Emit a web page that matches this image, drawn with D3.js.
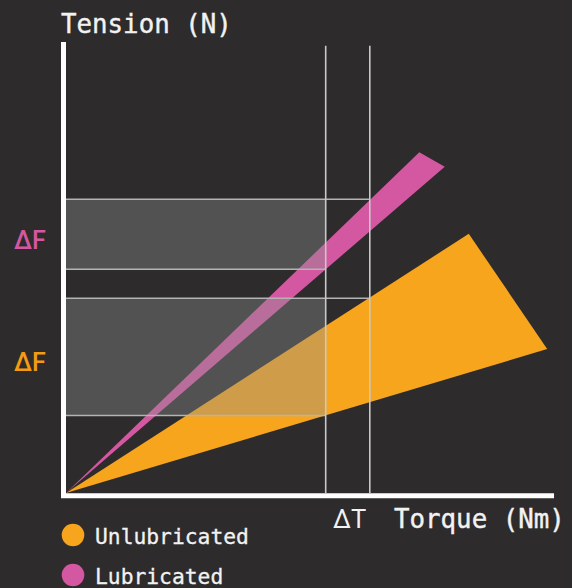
<!DOCTYPE html>
<html>
<head>
<meta charset="utf-8">
<script src="https://cdn.jsdelivr.net/npm/d3@7/dist/d3.min.js"></script>
<style>
  html, body { margin: 0; padding: 0; background: #2d2b2c; }
  svg { display: block; }
</style>
</head>
<body>
<script>
// ---- data (arbitrary units: torque on x, tension on y) ----
const seriesNames = ["Unlubricated", "Lubricated"];
const seriesColors = ["#f7a51c", "#d358a1"];
// wedge tips: [torque, tension] of the two far corners of each band (apex at origin)
const unlubricatedTips = [[8.22, 5.76], [9.82, 3.20]];
const lubricatedTips = [[7.21, 7.57], [7.73, 7.25]];
// torque window
const torqueWindow = [5.30, 6.20];
// tension windows [low, high]
const lubricatedDF = [4.97, 6.53];
const unlubricatedDF = [1.72, 4.33];
const axisTitles = { x: "Torque (Nm)", y: "Tension (N)" };
const deltaLabels = { t: "ΔT", f: "ΔF" };

const W = 572, H = 588;
const x = d3.scaleLinear().domain([0, 10]).range([66, 556]);
const y = d3.scaleLinear().domain([0, 10]).range([493, 43]);

const svg = d3.select("body").append("svg").attr("width", W).attr("height", H);
svg.append("rect").attr("width", W).attr("height", H).attr("fill", "#2d2b2c");

const mono = "'DejaVu Sans Mono', 'Liberation Mono', monospace";
const textColor = "#f2f2f2";

// wedges
const wedge = tips => [[0, 0], tips[0], tips[1]];
const line = d3.line().x(d => x(d[0])).y(d => y(d[1]));
svg.append("path").attr("d", line(wedge(unlubricatedTips)) + "Z").attr("fill", seriesColors[0]);
svg.append("path").attr("d", line(wedge(lubricatedTips)) + "Z").attr("fill", seriesColors[1]);

// grey windows
const greyFill = "#919191", greyOpacity = 0.39, gridStroke = "#b4b4b4";
[lubricatedDF, unlubricatedDF].forEach(r => {
  svg.append("rect")
    .attr("x", x(0) - 2).attr("y", y(r[1]))
    .attr("width", x(torqueWindow[0]) - x(0) + 2)
    .attr("height", y(r[0]) - y(r[1]))
    .attr("fill", greyFill).attr("opacity", greyOpacity);
});
// horizontal guides
const hLines = [
  [lubricatedDF[1], torqueWindow[1]], [lubricatedDF[0], torqueWindow[0]],
  [unlubricatedDF[1], torqueWindow[1]], [unlubricatedDF[0], torqueWindow[0]]
];
hLines.forEach(([yy, xe]) => {
  svg.append("line").attr("x1", x(0) - 2).attr("x2", x(xe))
    .attr("y1", y(yy)).attr("y2", y(yy))
    .attr("stroke", gridStroke).attr("stroke-width", 1.5);
});
// left edges of grey windows
[lubricatedDF, unlubricatedDF].forEach(r => {
  svg.append("line").attr("x1", x(0) - 2).attr("x2", x(0) - 2)
    .attr("y1", y(r[1])).attr("y2", y(r[0]))
    .attr("stroke", gridStroke).attr("stroke-width", 1.5);
});
// vertical guides
torqueWindow.forEach(t => {
  svg.append("line").attr("x1", x(t)).attr("x2", x(t))
    .attr("y1", y(9.94)).attr("y2", y(0))
    .attr("stroke", "#c8c8c8").attr("stroke-width", 1.6);
});

// axes
svg.append("line").attr("x1", x(0) - 2.5).attr("x2", x(0) - 2.5)
  .attr("y1", y(10) - 1).attr("y2", y(0) + 5)
  .attr("stroke", "#ffffff").attr("stroke-width", 5);
svg.append("line").attr("x1", x(0) - 5).attr("x2", x(9.96))
  .attr("y1", y(0) + 2.7).attr("y2", y(0) + 2.7)
  .attr("stroke", "#ffffff").attr("stroke-width", 5);

// axis titles
svg.append("text").attr("x", 61).attr("y", 33).text(axisTitles.y)
  .attr("fill", textColor).attr("font-family", mono).attr("font-size", 25.8)
  .attr("stroke", textColor).attr("stroke-width", 0.4);
svg.append("text").attr("x", 394).attr("y", 528).text(axisTitles.x)
  .attr("fill", textColor).attr("font-family", mono).attr("font-size", 25.8)
  .attr("stroke", textColor).attr("stroke-width", 0.4);
svg.append("text").attr("x", 333).attr("y", 528).text(deltaLabels.t)
  .attr("fill", textColor).attr("font-family", "Roboto, sans-serif").attr("font-size", 25.5);

// ΔF labels
svg.append("text").attr("x", 14).attr("y", 249).text(deltaLabels.f)
  .attr("fill", seriesColors[1]).attr("font-family", "Roboto, sans-serif").attr("font-weight", 500).attr("font-size", 25);
svg.append("text").attr("x", 14).attr("y", 371).text(deltaLabels.f)
  .attr("fill", "#f39c12").attr("font-family", "Roboto, sans-serif").attr("font-weight", 500).attr("font-size", 25);

// legend
const legend = svg.append("g");
seriesNames.forEach((n, i) => {
  const cy = 535 + i * 40;
  legend.append("circle").attr("cx", 73).attr("cy", cy).attr("r", 11.3).attr("fill", seriesColors[i]);
  legend.append("text").attr("x", 95).attr("y", cy + 9).text(n)
    .attr("fill", textColor).attr("font-family", mono).attr("font-size", 21.3)
    .attr("stroke", textColor).attr("stroke-width", 0.3);
});
</script>
</body>
</html>
